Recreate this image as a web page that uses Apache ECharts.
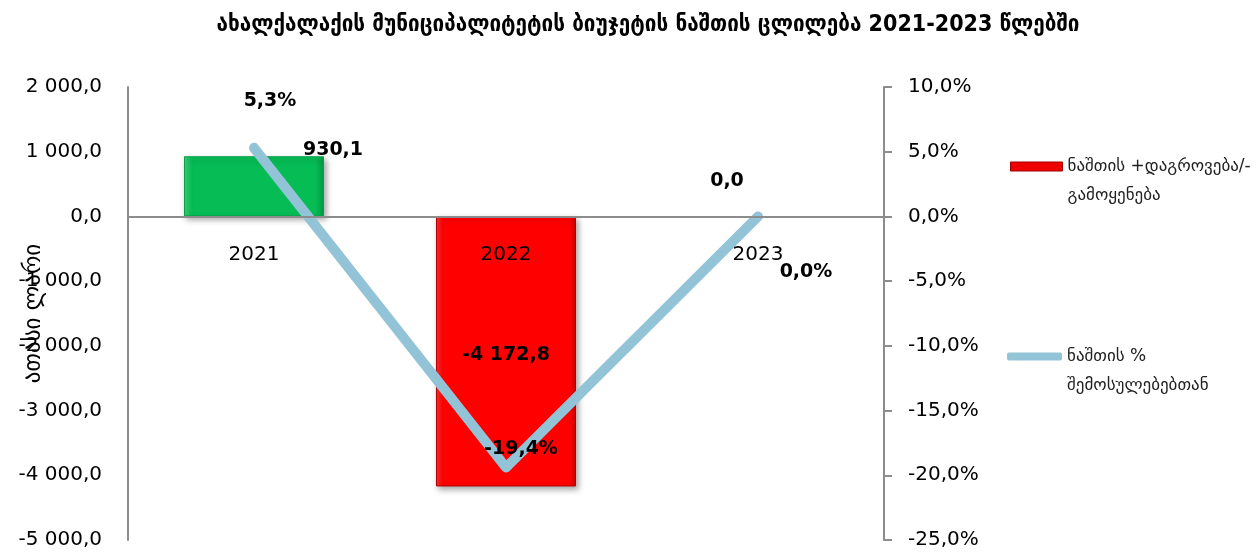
<!DOCTYPE html>
<html>
<head>
<meta charset="utf-8">
<script src="https://cdn.jsdelivr.net/npm/echarts@6/dist/echarts.min.js"></script>
<style>
html,body{margin:0;padding:0;background:#fff;}
#c{width:1256px;height:552px;}
</style>
</head>
<body>
<div id="c"></div>
<script>
const categories = ['2021', '2022', '2023'];
const balanceValues = [930.1, -4172.8, 0.0];
const percentValues = [5.3, -19.4, 0.0];
const leftTicks = {min: -5000, max: 2000, interval: 1000};
const rightTicks = {min: -25, max: 10, interval: 5};
const titleText = 'ახალქალაქის მუნიციპალიტეტის ბიუჯეტის ნაშთის ცლილება 2021-2023 წლებში';
const barName = 'ნაშთის +დაგროვება/-\nგამოყენება';
const lineName = 'ნაშთის %\nშემოსულებებთან';
const yAxisName = 'ათასი ლარი';

function fmtNum(v, dec) {
  const neg = v < 0;
  const s = Math.abs(v).toFixed(dec);
  const parts = s.split('.');
  const intp = parts[0].replace(/\B(?=(\d{3})+(?!\d))/g, ' ');
  return (neg ? '-' : '') + intp + (parts[1] !== undefined ? ',' + parts[1] : '');
}

const FONT = '"DejaVu Sans", sans-serif';
const GEO = '"DejaVu Sans", sans-serif';

const GRID = {left: 128, right: 372, top: 87, bottom: 12};
const plotH = 552 - GRID.top - GRID.bottom;
// move the category axis up to the zero level of the left value axis
const zeroOffset = -plotH * (0 - leftTicks.min) / (leftTicks.max - leftTicks.min);

const greenFill = {
  type: 'linear', x: 0, y: 0, x2: 1, y2: 0,
  colorStops: [
    {offset: 0, color: '#3BD27A'},
    {offset: 0.06, color: '#05BC55'},
    {offset: 0.94, color: '#05BC55'},
    {offset: 1, color: '#069A46'}
  ]
};
const redFill = {
  type: 'linear', x: 0, y: 0, x2: 1, y2: 0,
  colorStops: [
    {offset: 0, color: '#FF3030'},
    {offset: 0.05, color: '#FF0000'},
    {offset: 0.95, color: '#FF0000'},
    {offset: 1, color: '#D00000'}
  ]
};

const barLabelCfg = [
  {position: 'top', offset: [79, 8]},
  {position: 'inside', offset: [0, 4]},
  {position: 'top', offset: [-31, -20]}
];
const lineLabelCfg = [
  {position: 'top', offset: [16, -32]},
  {position: 'top', offset: [15, -3]},
  {position: 'top', offset: [48, 71]}
];

const barData = balanceValues.map((v, i) => ({
  value: v,
  itemStyle: i === 0 ? {color: greenFill, borderColor: '#07A048'} :
             (v === 0 ? {color: redFill, borderColor: 'transparent', shadowColor: 'transparent'} :
              {color: redFill, borderColor: '#B00000'}),
  label: barLabelCfg[i]
}));
const lineData = percentValues.map((v, i) => ({
  value: v,
  label: lineLabelCfg[i]
}));

const legendText = {fontSize: 17, color: '#222', lineHeight: 29, fontFamily: GEO};

const chart = echarts.init(document.getElementById('c'), null, {renderer: 'canvas'});
chart.setOption({
  backgroundColor: '#fff',
  animation: false,
  title: {
    text: titleText,
    left: 643, top: 9,
    textAlign: 'center',
    textStyle: {fontSize: 23, fontWeight: 'bold', color: '#000', fontFamily: '"DejaVu Sans Condensed", "DejaVu Sans", sans-serif'}
  },
  legend: [
    {
      data: [{name: barName, icon: 'rect'}],
      left: 1010, top: 123,
      padding: 0,
      itemWidth: 52, itemHeight: 9,
      formatter: n => '\n' + n,
      textStyle: legendText,
      itemStyle: {color: '#EE0000', borderColor: '#A00000', borderWidth: 1}
    },
    {
      data: [{name: lineName, icon: 'roundRect'}],
      left: 1007, top: 313,
      padding: 0,
      itemWidth: 55, itemHeight: 8,
      formatter: n => '\n' + n,
      textStyle: legendText
    }
  ],
  grid: {left: GRID.left, right: GRID.right, top: GRID.top, bottom: GRID.bottom, containLabel: false, outerBoundsMode: 'none'},
  xAxis: {
    type: 'category',
    data: categories,
    z: 10,
    offset: zeroOffset,
    axisLine: {onZero: false, lineStyle: {color: '#8C8C8C', width: 2}},
    axisTick: {show: false},
    axisLabel: {margin: 28, fontSize: 20, color: '#000', fontFamily: FONT}
  },
  yAxis: [
    {
      type: 'value',
      min: leftTicks.min, max: leftTicks.max, interval: leftTicks.interval,
      name: yAxisName,
      nameLocation: 'middle',
      nameGap: 82,
      nameMoveOverlap: false,
      nameTextStyle: {fontSize: 23, color: '#000', fontFamily: GEO},
      axisLine: {show: true, lineStyle: {color: '#8C8C8C', width: 2}},
      axisTick: {show: false},
      splitLine: {show: false},
      axisLabel: {margin: 26, fontSize: 20, color: '#000', fontFamily: FONT, formatter: v => fmtNum(v, 1)}
    },
    {
      type: 'value',
      position: 'right',
      min: rightTicks.min, max: rightTicks.max, interval: rightTicks.interval,
      axisLine: {show: true, lineStyle: {color: '#8C8C8C', width: 2}},
      axisTick: {show: true, length: 8, lineStyle: {color: '#8C8C8C', width: 2}},
      splitLine: {show: false},
      axisLabel: {margin: 24, fontSize: 20, color: '#000', fontFamily: FONT, formatter: v => fmtNum(v, 1) + '%'}
    }
  ],
  series: [
    {
      name: barName,
      type: 'bar',
      yAxisIndex: 0,
      barWidth: 140,
      data: barData,
      itemStyle: {
        color: '#FF0000', borderWidth: 1,
        shadowBlur: 6, shadowColor: 'rgba(0,0,0,0.35)', shadowOffsetX: 2, shadowOffsetY: 3
      },
      label: {
        show: true, fontSize: 19, fontWeight: 'bold', color: '#000', fontFamily: FONT,
        formatter: p => fmtNum(p.value, 1)
      },
      z: 2
    },
    {
      name: lineName,
      type: 'line',
      yAxisIndex: 1,
      data: lineData,
      symbol: 'circle',
      symbolSize: 1,
      itemStyle: {color: '#93C3D6'},
      lineStyle: {color: '#93C3D6', width: 10, cap: 'round', join: 'round'},
      label: {
        show: true, fontSize: 19, fontWeight: 'bold', color: '#000', fontFamily: FONT,
        formatter: p => fmtNum(p.value, 1) + '%'
      },
      z: 3
    }
  ]
});
</script>
</body>
</html>
